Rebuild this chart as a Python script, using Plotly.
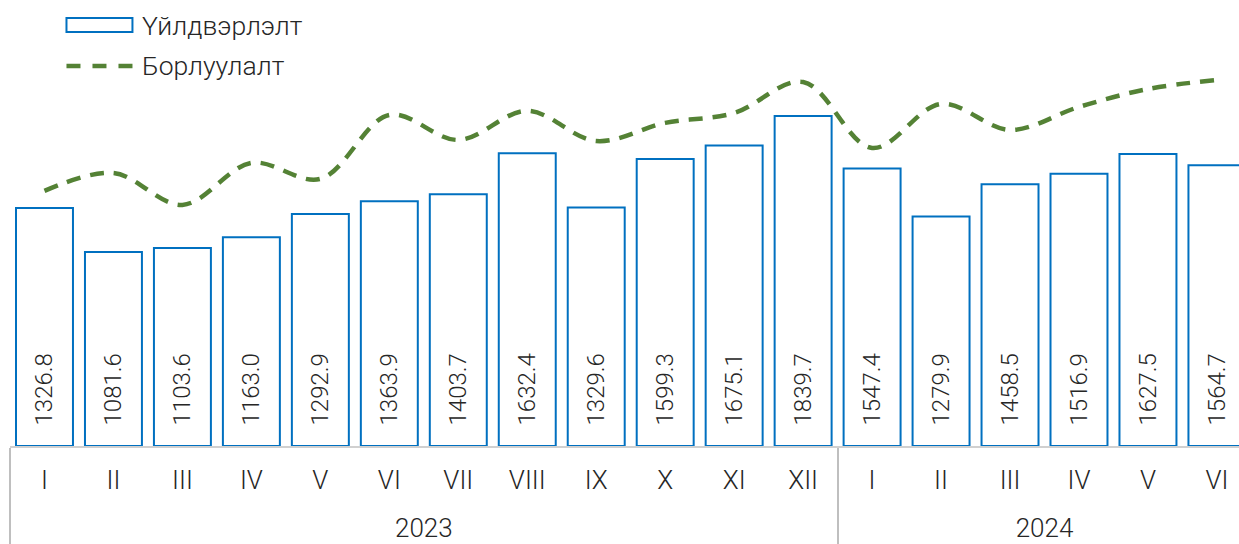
import plotly.graph_objects as go

# ---- data ----
years = ["2023"] * 12 + ["2024"] * 6
months = ["I", "II", "III", "IV", "V", "VI", "VII", "VIII", "IX", "X", "XI", "XII",
          "I", "II", "III", "IV", "V", "VI"]
production = [1326.8, 1081.6, 1103.6, 1163.0, 1292.9, 1363.9, 1403.7, 1632.4, 1329.6,
              1599.3, 1675.1, 1839.7, 1547.4, 1279.9, 1458.5, 1516.9, 1627.5, 1564.7]
sales = [1422, 1522, 1344, 1578, 1489, 1845, 1706, 1868, 1700,
         1801, 1856, 2029, 1661, 1907, 1762, 1890, 1990, 2040]
series_names = ["Үйлдвэрлэлт", "Борлуулалт"]

FONT = "Roboto"
TXT = "#262626"
BLUE = "#0070C0"
GREEN = "#548235"

W, H = 1239, 544
ML, MR, MT, MB = 9.5, 0, 0, 98
pw = W - ML - MR
ph = H - MT - MB

LBL = "<span style='font-size:26px'>{}</span>"
# year level label pushed one line lower (empty first line)
year_labels = ["<br>" + LBL.format(y) for y in years]
month_labels = [LBL.format(m) for m in months]

fig = go.Figure()
fig.add_trace(go.Bar(
    x=[year_labels, month_labels], y=production, name=series_names[0],
    marker=dict(color="white", line=dict(color=BLUE, width=2)),
    text=["\u00a0\u00a0\u00a0" + f"{v:.1f}" for v in production],
    textposition="inside", insidetextanchor="start", textangle=-90,
    insidetextfont=dict(family=FONT, size=24, color=TXT, weight=300),
    constraintext="none", cliponaxis=True, showlegend=False,
))
fig.add_trace(go.Scatter(
    x=[year_labels, month_labels], y=sales, name=series_names[1], mode="lines",
    line=dict(color=GREEN, width=4.5, dash="14px,10px", shape="spline", smoothing=1),
    showlegend=False,
))

def px_x(p):
    return (p - ML) / pw

def px_y(p):
    return (H - MB - p) / ph

LEG_SIZE = 26.5
shapes = [
    dict(type="rect", xref="paper", yref="paper",
         x0=px_x(66), x1=px_x(132), y0=px_y(32), y1=px_y(18),
         line=dict(color=BLUE, width=2), fillcolor="white"),
    dict(type="line", xref="paper", yref="paper",
         x0=px_x(66), x1=px_x(134), y0=px_y(66), y1=px_y(66),
         line=dict(color=GREEN, width=4.5, dash="14px,12px")),
]
annotations = [
    dict(xref="paper", yref="paper", x=px_x(140), y=px_y(25), text=series_names[0],
         showarrow=False, xanchor="left", yanchor="middle",
         font=dict(family=FONT, size=LEG_SIZE, color=TXT, weight=300)),
    dict(xref="paper", yref="paper", x=px_x(140), y=px_y(66), text=series_names[1],
         showarrow=False, xanchor="left", yanchor="middle",
         font=dict(family=FONT, size=LEG_SIZE, color=TXT, weight=300)),
]

fig.update_layout(
    width=W, height=H,
    margin=dict(l=ML, r=MR, t=MT, b=MB, autoexpand=False),
    paper_bgcolor="white", plot_bgcolor="white",
    bargap=0.174,
    shapes=shapes, annotations=annotations,
    xaxis=dict(type="multicategory", range=[-0.5, 17.32],
               showline=True, linecolor="#d0d0d0", linewidth=1.5,
               showdividers=True, dividercolor="#bfbfbf", dividerwidth=1.5,
               ticks="", showgrid=False, zeroline=False, ticklabelstandoff=14,
               tickfont=dict(family=FONT, size=23, color=TXT, weight=300)),
    yaxis=dict(visible=False, range=[0, 2486], showgrid=False, zeroline=False),
)
fig.write_html("out.html", config={"displayModeBar": False},
               post_script="document.body.style.margin='0';document.body.style.overflow='hidden';")
